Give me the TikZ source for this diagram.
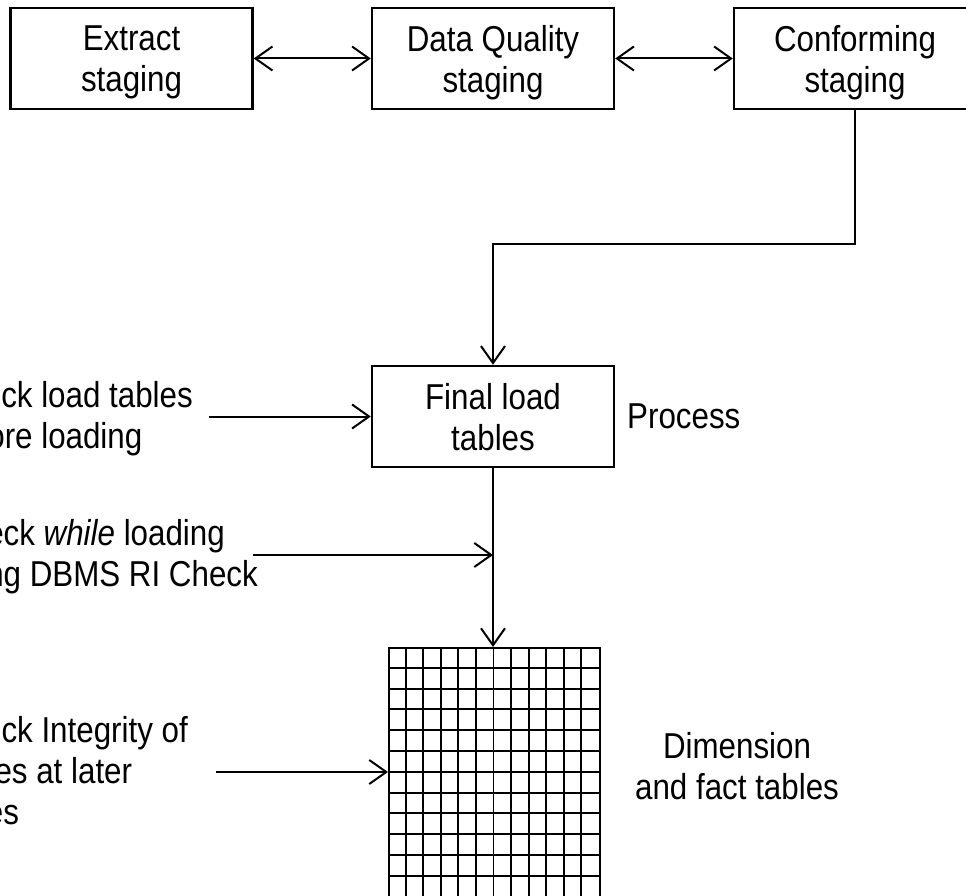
\documentclass[tikz,border=0pt]{standalone}
\usepackage{fontspec}
\setmainfont{Liberation Sans}[FakeStretch=0.87]
\usetikzlibrary{arrows.meta,calc}
\begin{document}
\begin{tikzpicture}[x=1pt,y=-1pt,
  every node/.style={font=\fontsize{36}{41}\selectfont, inner sep=0pt},
  stagebox/.style={draw, line width=2.4pt, minimum width=242pt, minimum height=101pt, align=center, text depth=0pt},
  conn/.style={line width=2pt},
  tip/.style={-{Straight Barb[length=17pt,width=24pt]}},
  dtip/.style={{Straight Barb[length=17pt,width=24pt]}-{Straight Barb[length=17pt,width=24pt]}},
  gridline/.style={line width=1.9pt},
  lbl/.style={anchor=base east}]
\useasboundingbox (0,0) rectangle (966,896);
\clip (0,0) rectangle (966,896);

% staging boxes
\node[stagebox] (ext)  at (131.5,58.5) {Extract\\staging};
\node[stagebox] (dq)   at (493,58.5)   {Data Quality\\staging};
\node[stagebox] (conf) at (855,58.5)   {Conforming\\staging};
\node[stagebox] (final) at (493,416.5) {Final load\\tables};
\node[anchor=base west] (proc) at (627,428) {Process};

% grid (dimension and fact tables)
\node[draw, line width=1.9pt, minimum width=211pt, minimum height=262pt, anchor=north west] (grid) at (388,647) {};
\foreach \i in {1,...,11}
  \draw[gridline] ($(grid.north west)+(\i*17.58,0)$) -- ++(0,262);
\foreach \j in {1,...,12}
  \draw[gridline] ($(grid.north west)+(0,\j*20.8)$) -- ++(211,0);

\node[anchor=base] (dim) at (737,758) {\begin{tabular}[t]{@{}c@{}}Dimension\\and fact tables\end{tabular}};

% left labels
\node[lbl] (t1) at (193,407) {\begin{tabular}[t]{@{}l@{}}Check load tables\\before loading\end{tabular}};
\node[lbl] (t2) at (258,545) {\begin{tabular}[t]{@{}l@{}}Check \emph{while} loading\\using DBMS RI Check\end{tabular}};
\node[lbl] (t3) at (188,742) {\begin{tabular}[t]{@{}l@{}}Check Integrity of\\tables at later\\times\end{tabular}};

% connectors
\draw[conn,dtip] (ext.east) -- (dq.west);
\draw[conn,dtip] (dq.east) -- (conf.west);
\draw[conn,tip] (conf.south) -- ++(0,134) -| (final.north);
\draw[conn,tip] (final.south) -- (final.south|-grid.north);

\coordinate (s1) at (209,416.5);
\coordinate (s2) at (253,555);
\coordinate (m2) at (493,555);
\coordinate (s3) at (216,772);
\draw[conn,tip] (s1) -- (final.west);
\draw[conn,tip] (s2) -- (m2);
\draw[conn,tip] (s3) -- (grid.west|-s3);
\end{tikzpicture}
\end{document}
